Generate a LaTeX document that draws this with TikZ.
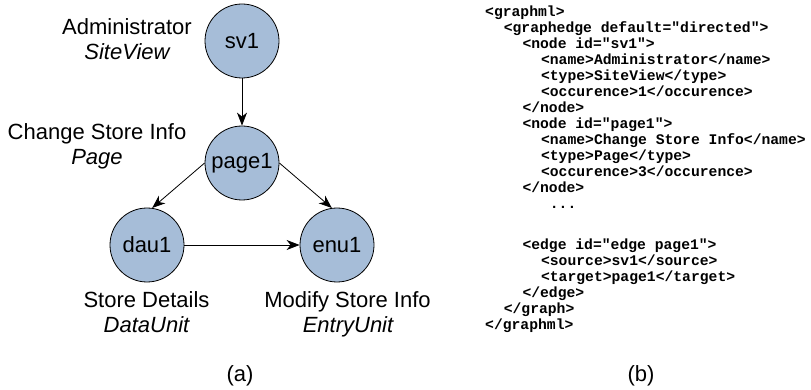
\documentclass[tikz,border=0pt]{standalone}
\usepackage{fontspec}
\setmainfont{Liberation Sans}
\setmonofont{Liberation Mono}
\usetikzlibrary{arrows.meta}
\definecolor{nodeblue}{RGB}{166,189,216}
\tikzset{
  gnode/.style={circle, draw=black, line width=0.8pt, fill=nodeblue, minimum size=74pt, inner sep=0pt, font=\fontsize{22}{26}\selectfont},
  lbl/.style={anchor=base, inner sep=0pt, font=\fontsize{22}{26}\selectfont},
  code/.style={anchor=base west, inner sep=0pt, font=\fontsize{14.7}{16}\selectfont\ttfamily\bfseries},
  conn/.style={draw=black, line width=0.8pt, -{Stealth[length=13pt,width=10pt,inset=4pt]}}
}
\begin{document}
\begin{tikzpicture}[x=1pt,y=-1pt]
\useasboundingbox (0,0) rectangle (811,390);
% graph nodes
\node[gnode] (sv1) at (242,41) {sv1};
\node[gnode] (page1) at (242,163) {page1};
\node[gnode] (dau1) at (147,245) {dau1};
\node[gnode] (enu1) at (337,245) {enu1};
% connectors
\draw[conn] (sv1.south) -- (page1.north);
\draw[conn] (page1.west) -- (dau1.82);
\draw[conn] (page1.east) -- (enu1.98);
\draw[conn] (dau1.east) -- (enu1.west);
% labels
\node[lbl] (l1a) at (127,35) {Administrator};
\node[lbl] (l1b) at (127,60) {\itshape SiteView};
\node[lbl] (l2a) at (97,140) {Change Store Info};
\node[lbl] (l2b) at (97,165) {\itshape Page};
\node[lbl] (l3a) at (146.5,307) {Store Details};
\node[lbl] (l3b) at (146.5,332) {\itshape DataUnit};
\node[lbl] (l4a) at (347.5,307) {Modify Store Info};
\node[lbl] (l4b) at (348,332) {\itshape EntryUnit};
\node[lbl] (capa) at (240,381) {(a)};
\node[lbl] (capb) at (641,381) {(b)};
% code
\node[code] (c0) at (485,17) {<graphml>};
\node[code] (c1) at (503.6,33) {<graphedge default="directed">};
\node[code] (c2) at (522.3,49) {<node id="sv1">};
\node[code] (c3) at (540.9,65) {<name>Administrator</name>};
\node[code] (c4) at (540.9,81) {<type>SiteView</type>};
\node[code] (c5) at (540.9,97) {<occurence>1</occurence>};
\node[code] (c6) at (522.3,113) {</node>};
\node[code] (c7) at (522.3,129) {<node id="page1">};
\node[code] (c8) at (540.9,145) {<name>Change Store Info</name>};
\node[code] (c9) at (540.9,161) {<type>Page</type>};
\node[code] (c10) at (540.9,177) {<occurence>3</occurence>};
\node[code] (c11) at (522.3,193) {</node>};
\node[code] (c12) at (549.7,209) {...};
\node[code] (c13) at (522.3,249) {<edge id="edge page1">};
\node[code] (c14) at (540.9,265) {<source>sv1</source>};
\node[code] (c15) at (540.9,281) {<target>page1</target>};
\node[code] (c16) at (522.3,297) {</edge>};
\node[code] (c17) at (503.6,313) {</graph>};
\node[code] (c18) at (485,329) {</graphml>};
\end{tikzpicture}
\end{document}
